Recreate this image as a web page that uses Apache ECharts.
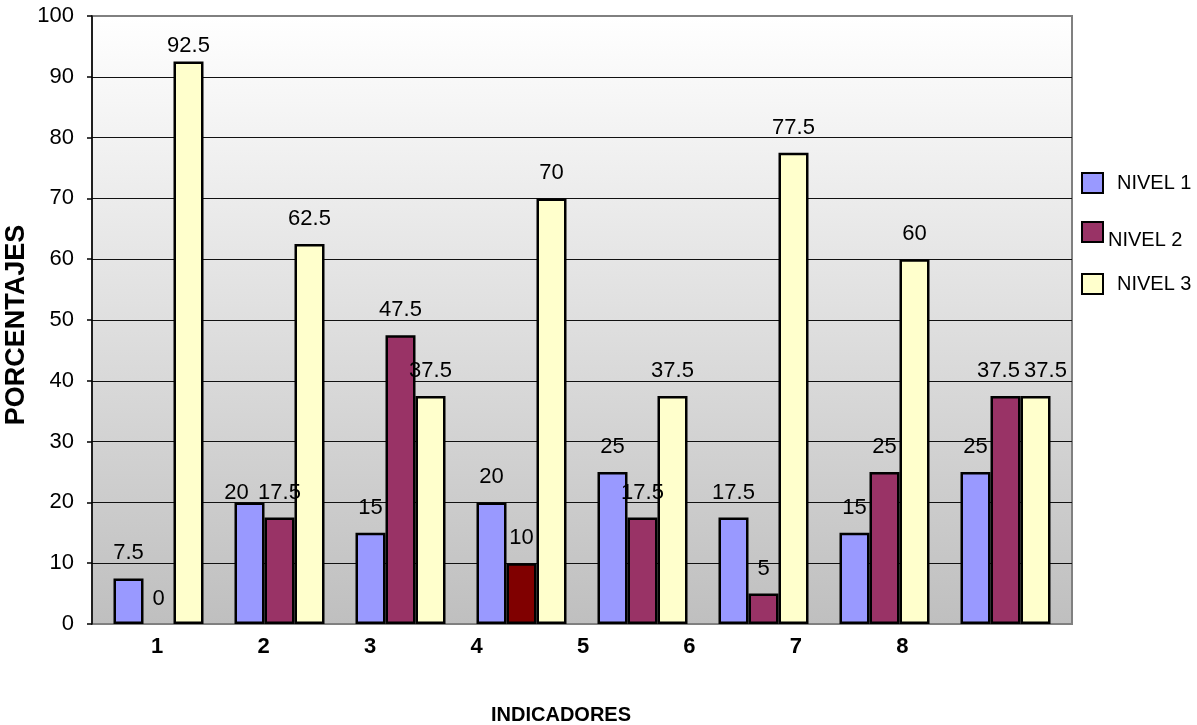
<!DOCTYPE html>
<html><head><meta charset="utf-8">
<script src="https://cdn.jsdelivr.net/npm/echarts@6/dist/echarts.min.js"></script>
<style>html,body{margin:0;padding:0;background:#fff}#c{width:1197px;height:725px}</style>
</head><body><div id="c"></div>
<script>
const categories = ['1','2','3','4','5','6','7','8'];
const axisLabels = ['1','2','3','4','5','6','7','8',''];
const seriesNames = ['NIVEL 1','NIVEL 2','NIVEL 3'];
const nivel1 = [7.5, 20, 15, 20, 25, 17.5, 15, 25];
const nivel2 = [0, 17.5, 47.5, 10, 17.5, 5, 25, 37.5];
const nivel3 = [92.5, 62.5, 37.5, 70, 37.5, 77.5, 60, 37.5];
const yTicks = [0, 10, 20, 30, 40, 50, 60, 70, 80, 90, 100];
const yTitle = 'PORCENTAJES';
const xTitle = 'INDICADORES';

const FONT = "'Liberation Sans', Arial, sans-serif";
const colors = ['#9999FF', '#993366', '#FFFFCC'];
const specialColors = { '1-3': '#800000' };
const labelOffsets = { '0-1': [-13, 16], '2-0': [0, 9], '1-7': [-7, 0], '2-7': [10, 0] };

const allData = [nivel1, nivel2, nivel3];

const series = allData.map((arr, s) => ({
  name: seriesNames[s],
  type: 'bar',
  xAxisIndex: 1,
  yAxisIndex: 1,
  barWidth: 30,
  barGap: '0%',
  itemStyle: { color: colors[s], borderColor: '#000', borderWidth: 2.5 },
  label: { show: true, position: 'top', distance: 14, fontSize: 22, color: '#000', fontFamily: FONT },
  data: arr.map((v, i) => {
    const key = s + '-' + i;
    const item = { value: v };
    if (specialColors[key]) item.itemStyle = { color: specialColors[key] };
    if (v === 0) item.itemStyle = Object.assign({}, item.itemStyle, { borderWidth: 0 });
    if (labelOffsets[key]) item.label = { offset: labelOffsets[key] };
    return item;
  })
}));

const chart = echarts.init(document.getElementById('c'));
const splitColors = yTicks.map((t, i) => (i === 0 || i === yTicks.length - 1) ? '#808080' : '#111');

chart.setOption({
  animation: false,
  backgroundColor: '#fff',
  grid: [
    { left: 92, top: 16, width: 980, height: 608, show: true, outerBoundsMode: 'none', containLabel: false,
      backgroundColor: { type: 'linear', x: 0, y: 0, x2: 0, y2: 1,
        colorStops: [{ offset: 0, color: '#FFFFFF' }, { offset: 1, color: '#BFBFBF' }] },
      borderColor: '#808080', borderWidth: 2 },
    { left: 98, top: 16, width: 968, height: 608, outerBoundsMode: 'none', containLabel: false },
    { left: 104, top: 16, width: 958, height: 608, outerBoundsMode: 'none', containLabel: false }
  ],
  xAxis: [
    { gridIndex: 0, type: 'category', data: categories, show: false },
    { gridIndex: 1, type: 'category', data: categories, show: false },
    { gridIndex: 2, type: 'category', data: axisLabels,
      axisLine: { show: false }, axisTick: { show: false },
      axisLabel: { fontSize: 22, fontWeight: 'bold', color: '#000', fontFamily: FONT, margin: 12, interval: 0 } }
  ],
  yAxis: [
    { gridIndex: 0, type: 'value', min: 0, max: 100, interval: 10,
      axisLine: { show: true, lineStyle: { color: '#000', width: 1.5 } },
      axisTick: { show: true, length: 5, lineStyle: { color: '#000', width: 1.5 } },
      axisLabel: { fontSize: 22, color: '#000', fontFamily: FONT, margin: 18 },
      splitLine: { show: true, lineStyle: { color: splitColors, width: 1 } } },
    { gridIndex: 1, type: 'value', min: 0, max: 100, interval: 10, show: false, splitLine: { show: false } },
    { gridIndex: 2, type: 'value', min: 0, max: 100, interval: 10, show: false, splitLine: { show: false } }
  ],
  legend: [
    { data: [seriesNames[0]], left: 1076, top: 167, itemWidth: 21, itemHeight: 20, selectedMode: false,
      icon: 'rect', textStyle: { fontSize: 20, color: '#000', fontFamily: FONT, padding: [0, 0, 0, 9] } },
    { data: [seriesNames[1]], left: 1076, top: 209, itemWidth: 21, itemHeight: 20, selectedMode: false,
      icon: 'rect', formatter: '\n{name}',
      textStyle: { fontSize: 20, lineHeight: 16, color: '#000', fontFamily: FONT } },
    { data: [seriesNames[2]], left: 1076, top: 268, itemWidth: 21, itemHeight: 20, selectedMode: false,
      icon: 'rect', textStyle: { fontSize: 20, color: '#000', fontFamily: FONT, padding: [0, 0, 0, 9] } }
  ],
  graphic: [
    { type: 'text', x: 561, y: 715,
      style: { text: xTitle, font: "bold 20px 'Liberation Sans', Arial, sans-serif",
        fill: '#000', textAlign: 'center', textVerticalAlign: 'middle' } },
    { type: 'text', x: 17, y: 325, rotation: Math.PI / 2,
      style: { text: yTitle, font: "bold 27px 'Liberation Sans', Arial, sans-serif",
        fill: '#000', textAlign: 'center', textVerticalAlign: 'middle' } }
  ],
  series: series
});
</script>
</body></html>
